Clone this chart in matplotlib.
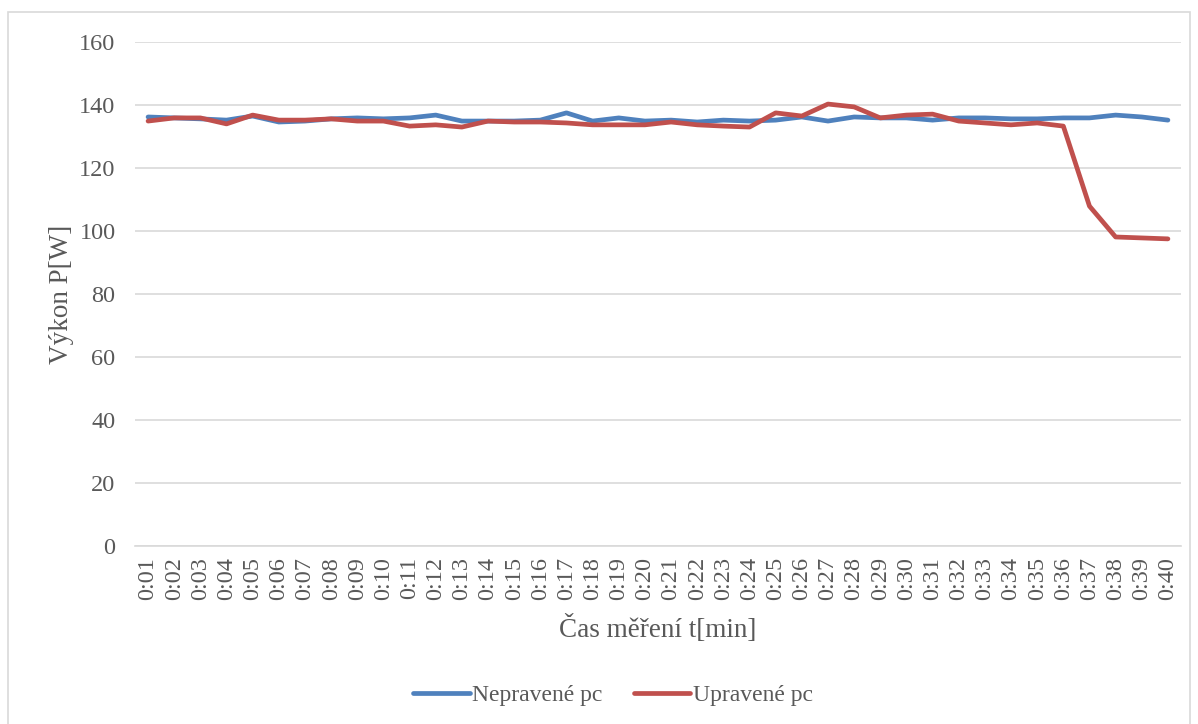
import matplotlib
matplotlib.use("Agg")
import matplotlib.pyplot as plt
from matplotlib.patches import Rectangle

labels = ["0:%02d" % i for i in range(1, 41)]
neupravene = [136.2, 135.9, 135.6, 135.2, 136.5, 134.6, 134.9, 135.6, 135.9, 135.6,
              135.9, 136.8, 134.9, 134.9, 134.9, 135.2, 137.5, 134.9, 135.9, 134.9,
              135.2, 134.6, 135.2, 134.9, 135.2, 136.2, 134.9, 136.2, 135.9, 135.9,
              135.2, 135.9, 135.9, 135.6, 135.6, 135.9, 135.9, 136.8, 136.2, 135.2]
upravene = [134.9, 135.9, 135.9, 134.0, 136.8, 135.2, 135.2, 135.6, 134.9, 134.9,
            133.3, 133.7, 133.0, 134.9, 134.6, 134.6, 134.3, 133.7, 133.7, 133.7,
            134.6, 133.7, 133.3, 133.0, 137.5, 136.5, 140.3, 139.4, 135.9, 136.8,
            137.1, 134.9, 134.3, 133.7, 134.3, 133.3, 107.9, 98.1, 97.8, 97.5]
yticks = [0, 20, 40, 60, 80, 100, 120, 140, 160]

plt.rcParams['font.family'] = ['Liberation Serif', 'DejaVu Serif']
grey = '#595959'

fig = plt.figure(figsize=(11.98, 7.24), dpi=100)
fig.patches.append(Rectangle((8/1198, -0.01), (1190-8)/1198, 1 - 12/724 + 0.01,
                             transform=fig.transFigure, fill=False,
                             edgecolor='#d9d9d9', linewidth=1.2))
ax = fig.add_axes([135/1198, 1-546/724, (1181-135)/1198, (546-42)/724])
x = list(range(len(labels)))
ax.plot(x, neupravene, color='#4F81BD', lw=3.4, label='Nepravené pc', solid_capstyle='round')
ax.plot(x, upravene, color='#C0504D', lw=3.4, label='Upravené pc', solid_capstyle='round')
ax.set_xlim(-0.5, len(labels)-0.5)
ax.set_ylim(0, 160)
ax.set_yticks(yticks)
ax.set_xticks(x)
ax.set_xticklabels(labels, rotation=90)
ax.grid(axis='y', color='#d9d9d9', lw=1.2)
ax.set_axisbelow(True)
for s in ['top', 'right', 'left']:
    ax.spines[s].set_visible(False)
ax.spines['bottom'].set_color('#d9d9d9')
ax.spines['bottom'].set_linewidth(1.2)
ax.tick_params(axis='both', length=0, labelcolor=grey, labelsize=17.5)
ax.tick_params(axis='y', pad=14)
ax.tick_params(axis='x', pad=8)
ax.set_ylabel('Výkon P[W]', color=grey, fontsize=19.5)
ax.yaxis.set_label_coords(-(135-62)/1046, 0.5)
ax.set_xlabel('Čas měření t[min]', color=grey, fontsize=19.5)
ax.xaxis.set_label_coords(0.5, -(629-546)/504)
ax.xaxis.label.set_va('center')
ax.yaxis.label.set_va('center')
leg = fig.legend(loc='center', bbox_to_anchor=(613/1198, 1-695/724), ncol=2, frameon=False,
                 fontsize=17, handlelength=2.4, handletextpad=0.1, columnspacing=1.3)
for t in leg.get_texts():
    t.set_color(grey)
fig.savefig('out.png', dpi=100)
